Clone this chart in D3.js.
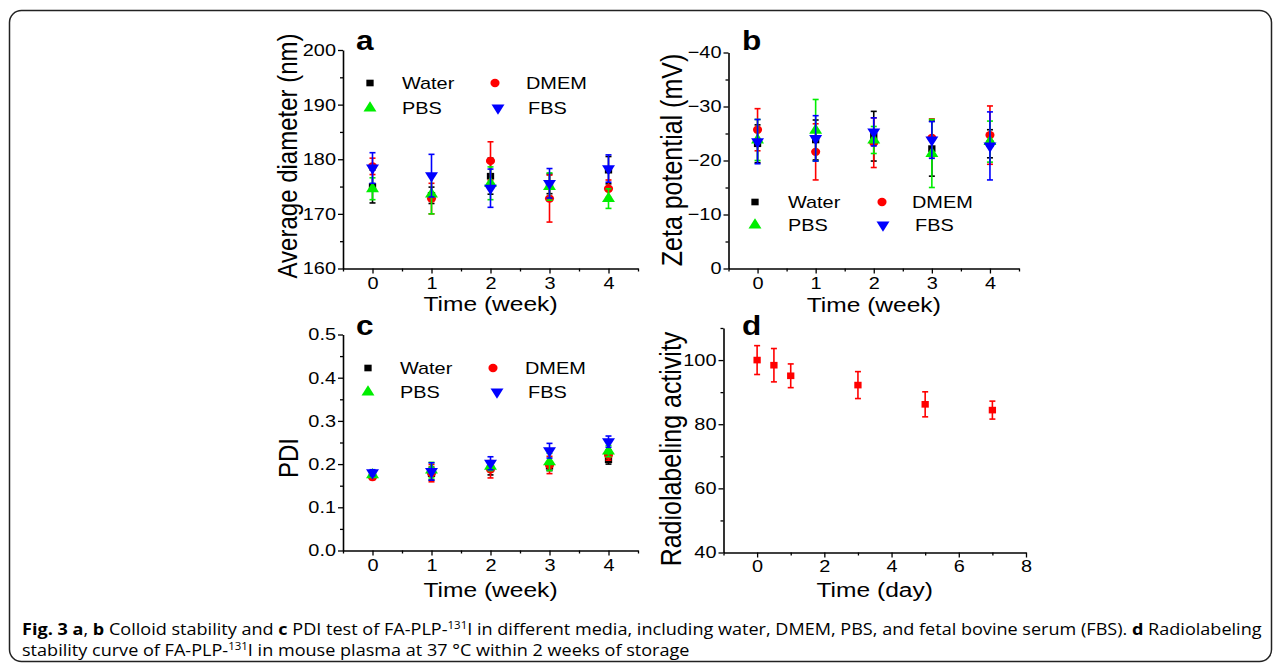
<!DOCTYPE html>
<html lang="en">
<head>
<meta charset="utf-8">
<script src="https://d3js.org/d3.v7.min.js"></script>
<style>
  body { margin: 0; background: #fff; }
  text { font-family: "Liberation Sans", Arial, sans-serif; fill: #000; }
  .caption text { font-family: "Open Sans", "Noto Sans", sans-serif; }
</style>
</head>
<body>
<div class="display1"></div>
<script>
// ---- data ----
var weeks = [0, 1, 2, 3, 4];

// a: average diameter (nm)
var diaWater = [175.0, 173.4, 176.9, 175.5, 178.0];
var diaWaterErr = [3.0, 1.5, 3.3, 1.8, 2.5];
var diaDMEM = [178.7, 172.8, 179.7, 172.8, 174.6];
var diaDMEMErr = [1.5, 2.8, 3.5, 4.3, 1.6];
var diaPBS = [174.6, 173.6, 175.6, 175.0, 172.8];
var diaPBSErr = [2.0, 3.6, 3.0, 2.5, 1.8];
var diaFBS = [178.4, 177.0, 174.7, 175.6, 178.3];
var diaFBSErr = [2.8, 3.9, 3.5, 2.7, 2.5];

// b: zeta potential (mV)
var zetaWater = [-23.1, -23.8, -24.5, -22.2, -23.1];
var zetaWaterErr = [3.5, 3.7, 4.6, 5.1, 2.6];
var zetaDMEM = [-25.7, -21.6, -23.3, -24.2, -24.7];
var zetaDMEMErr = [3.9, 5.2, 4.6, 3.5, 5.4];
var zetaPBS = [-23.8, -25.6, -23.8, -21.3, -23.5];
var zetaPBSErr = [3.8, 5.7, 2.5, 6.3, 3.8];
var zetaFBS = [-23.5, -24.1, -25.3, -23.8, -22.7];
var zetaFBSErr = [4.1, 4.2, 2.6, 3.4, 6.3];

// c: PDI
var pdiWater = [0.172, 0.178, 0.190, 0.195, 0.210];
var pdiWaterErr = [0.006, 0.015, 0.015, 0.010, 0.010];
var pdiDMEM = [0.170, 0.179, 0.188, 0.198, 0.221];
var pdiDMEMErr = [0.006, 0.020, 0.020, 0.020, 0.012];
var pdiPBS = [0.175, 0.186, 0.195, 0.205, 0.230];
var pdiPBSErr = [0.005, 0.018, 0.010, 0.020, 0.013];
var pdiFBS = [0.180, 0.183, 0.202, 0.231, 0.252];
var pdiFBSErr = [0.007, 0.020, 0.015, 0.017, 0.013];

// d: radiolabeling activity
var days = [0, 0.5, 1, 3, 5, 7];
var activity = [100, 98.4, 95.1, 92.2, 86.2, 84.4];
var activityErr = [4.5, 5.2, 3.7, 4.2, 3.9, 2.8];

// tick values
var weekTicks = [0, 1, 2, 3, 4];
var weekMinor = [-0.5, 0.5, 1.5, 2.5, 3.5, 4.5];
var dayTicks = [0, 2, 4, 6, 8];
var dayMinor = [-1, 1, 3, 5, 7];

var colors = {Water: '#000000', DMEM: '#ff0000', PBS: '#00ee00', FBS: '#0000ff', Radiolabeling: '#ff0000'};
var S = 1.17; // the figure text is a bit wider than plain Arial

var width = 1281, height = 672;
var svg = d3.select('.display1').append('svg').attr('width', width).attr('height', height);

// frame round the figure
svg.append('rect').attr('x', 9.5).attr('y', 10.5).attr('width', 1262).attr('height', 651)
  .attr('rx', 12).attr('fill', 'none').attr('stroke', '#222').attr('stroke-width', 1.5);

function marker(name) {
  if (name == 'Water' || name == 'Radiolabeling') return d3.symbol().type(d3.symbolSquare).size(44)();
  if (name == 'DMEM') return d3.symbol().type(d3.symbolCircle).size(54)();
  return d3.symbol().type(d3.symbolTriangle).size(60)();
}
function markerTransform(name, px, py) {
  var t = 'translate(' + px + ',' + py + ')';
  if (name == 'FBS') t += ' rotate(180)';
  return t + ' scale(1.1,1)';
}

function stretchedText(g, x, y, txt, size, anchor, bold) {
  g.append('text')
    .attr('transform', 'translate(' + x + ',' + y + ') scale(' + S + ',1)')
    .attr('text-anchor', anchor || 'start')
    .style('font-size', size + 'px')
    .style('font-weight', bold ? 'bold' : 'normal')
    .text(txt);
}

function drawPanel(p) {
  var g = svg.append('g');
  var x = d3.scaleLinear().domain(p.xDomain).range(p.xRange);
  var y = d3.scaleLinear().domain(p.yDomain).range(p.yRange);
  var x0 = p.xRange[0], y0 = p.yRange[0];

  // minor ticks
  g.append('g').attr('transform', 'translate(0,' + y0 + ')')
    .call(d3.axisBottom(x).tickValues(p.xMinor).tickSize(3).tickFormat(''))
    .call(function(a) { a.select('.domain').remove(); });
  g.append('g').attr('transform', 'translate(' + x0 + ',0)')
    .call(d3.axisLeft(y).tickValues(p.yMinor).tickSize(3).tickFormat(''))
    .call(function(a) { a.select('.domain').remove(); });

  var xa = g.append('g').attr('transform', 'translate(0,' + y0 + ')')
    .call(d3.axisBottom(x).tickValues(p.xTicks).tickSize(5).tickSizeOuter(0).tickPadding(p.xPad)
      .tickFormat(d3.format('d')));
  var ya = g.append('g').attr('transform', 'translate(' + x0 + ',0)')
    .call(d3.axisLeft(y).tickValues(p.yTicks).tickSize(5).tickSizeOuter(0).tickPadding(1)
      .tickFormat(p.yFormat));
  [xa, ya].forEach(function(a) {
    a.select('.domain').attr('stroke', '#000').attr('stroke-width', 1.6);
    a.selectAll('text').style('font-size', '17px').attr('fill', '#000')
      .style('font-family', '"Liberation Sans", Arial, sans-serif')
      .attr('transform', 'scale(' + S + ',1)');
  });
  g.selectAll('.tick line').attr('stroke', '#000').attr('stroke-width', 1.3);

  // axis titles
  stretchedText(g, (p.xRange[0] + p.xRange[1]) / 2, p.xTitleY, p.xTitle, 21, 'middle');
  g.append('text')
    .attr('transform', 'translate(' + p.yTitleX + ',' + p.yTitleY + ') rotate(-90) scale(1,' + S + ')')
    .attr('text-anchor', 'middle').style('font-size', p.yTitleSize + 'px')
    .text(p.yTitle);

  // panel letter
  stretchedText(g, p.label[1], p.label[2], p.label[0], 27, 'start', true);

  // series: error bars then markers
  p.series.forEach(function(s) {
    var col = colors[s.name];
    var sg = g.append('g');
    s.values.forEach(function(v, i) {
      var px = x(p.xs[i]);
      var yt = y(v + s.err[i]), yb = y(v - s.err[i]);
      sg.append('line').attr('x1', px).attr('x2', px).attr('y1', yt).attr('y2', yb)
        .attr('stroke', col).attr('stroke-width', 1.6);
      [yt, yb].forEach(function(yy) {
        sg.append('line').attr('x1', px - 3).attr('x2', px + 3).attr('y1', yy).attr('y2', yy)
          .attr('stroke', col).attr('stroke-width', 1.6);
      });
      sg.append('path').attr('d', marker(s.name))
        .attr('transform', markerTransform(s.name, px, y(v)))
        .attr('fill', col);
    });
  });

  // legend
  if (p.legend) {
    p.legend.forEach(function(l) {
      g.append('path').attr('d', marker(l[0]))
        .attr('transform', markerTransform(l[0], l[1], l[2]))
        .attr('fill', colors[l[0]]);
      stretchedText(g, l[3], l[2] + 6, l[0], 17, 'start');
    });
  }
}

function fourSeries(w, we, dm, dme, pb, pbe, fb, fbe) {
  return [
    {name: 'Water', values: w, err: we},
    {name: 'DMEM', values: dm, err: dme},
    {name: 'PBS', values: pb, err: pbe},
    {name: 'FBS', values: fb, err: fbe}
  ];
}

drawPanel({
  xDomain: [-0.5, 4.5], xRange: [343, 638], yDomain: [160, 200], yRange: [268.5, 50],
  xTicks: weekTicks, xMinor: weekMinor, yTicks: [160, 170, 180, 190, 200], yMinor: [165, 175, 185, 195],
  yFormat: d3.format('d'), xPad: 3,
  xTitle: 'Time (week)', xTitleY: 311, yTitle: 'Average diameter (nm)', yTitleX: 297, yTitleY: 156, yTitleSize: 24,
  label: ['a', 356, 50], xs: weeks,
  series: fourSeries(diaWater, diaWaterErr, diaDMEM, diaDMEMErr, diaPBS, diaPBSErr, diaFBS, diaFBSErr),
  legend: [['Water', 370, 83, 402], ['DMEM', 495, 83, 526], ['PBS', 370, 108, 402], ['FBS', 498, 108, 528]]
});

drawPanel({
  xDomain: [-0.5, 4.5], xRange: [728.5, 1019], yDomain: [0, -40], yRange: [268.5, 52.5],
  xTicks: weekTicks, xMinor: weekMinor, yTicks: [0, -10, -20, -30, -40], yMinor: [-5, -15, -25, -35],
  yFormat: d3.format('d'), xPad: 3,
  xTitle: 'Time (week)', xTitleY: 312, yTitle: 'Zeta potential (mV)', yTitleX: 682, yTitleY: 160, yTitleSize: 25,
  label: ['b', 742, 50], xs: weeks,
  series: fourSeries(zetaWater, zetaWaterErr, zetaDMEM, zetaDMEMErr, zetaPBS, zetaPBSErr, zetaFBS, zetaFBSErr),
  legend: [['Water', 755, 202, 788], ['DMEM', 882, 202, 912], ['PBS', 755, 225, 788], ['FBS', 883, 225, 915]]
});

drawPanel({
  xDomain: [-0.5, 4.5], xRange: [343, 638], yDomain: [0, 0.5], yRange: [550.5, 334.5],
  xTicks: weekTicks, xMinor: weekMinor, yTicks: [0, 0.1, 0.2, 0.3, 0.4, 0.5], yMinor: [0.05, 0.15, 0.25, 0.35, 0.45],
  yFormat: d3.format('.1f'), xPad: 3,
  xTitle: 'Time (week)', xTitleY: 597, yTitle: 'PDI', yTitleX: 298, yTitleY: 458, yTitleSize: 24,
  label: ['c', 356, 335], xs: weeks,
  series: fourSeries(pdiWater, pdiWaterErr, pdiDMEM, pdiDMEMErr, pdiPBS, pdiPBSErr, pdiFBS, pdiFBSErr),
  legend: [['Water', 368, 368, 400], ['DMEM', 493, 368, 525], ['PBS', 368, 392, 400], ['FBS', 497, 392, 528]]
});

drawPanel({
  xDomain: [-1, 8], xRange: [723.5, 1026], yDomain: [40, 110], yRange: [552.5, 328],
  xTicks: dayTicks, xMinor: dayMinor, yTicks: [40, 60, 80, 100], yMinor: [50, 70, 90, 110],
  yFormat: d3.format('d'), xPad: 2,
  xTitle: 'Time (day)', xTitleY: 597, yTitle: 'Radiolabeling activity', yTitleX: 681, yTitleY: 449, yTitleSize: 25,
  label: ['d', 742, 335], xs: days,
  series: [{name: 'Radiolabeling', values: activity, err: activityErr}],
  legend: null
});

// caption
var cap = svg.append('g').attr('class', 'caption');
var line1 = cap.append('text').style('font-size', '16.5px');
function add(t, txt, opts) {
  var s = t.append('tspan').text(txt);
  if (opts == 'b') s.style('font-weight', 'bold');
  if (opts == 'sup') s.attr('dy', -6).style('font-size', '10.5px');
  if (opts == 'down') s.attr('dy', 6);
  return s;
}
add(line1, 'Fig. 3 a', 'b'); add(line1, ', '); add(line1, 'b', 'b');
add(line1, ' Colloid stability and '); add(line1, 'c', 'b');
add(line1, ' PDI test of FA-PLP-'); add(line1, '131', 'sup');
add(line1, 'I in different media, including water, DMEM, PBS, and fetal bovine serum (FBS). ', 'down');
add(line1, 'd', 'b'); add(line1, ' Radiolabeling');
var line2 = cap.append('text').style('font-size', '16.5px');
add(line2, 'stability curve of FA-PLP-'); add(line2, '131', 'sup');
add(line2, 'I in mouse plasma at 37 °C within 2 weeks of storage', 'down');

var w1 = line1.node().getComputedTextLength();
var k = 1240 / w1;
line1.attr('transform', 'translate(22,635) scale(' + k + ',1)');
line2.attr('transform', 'translate(22,656) scale(' + k + ',1)');
</script>
</body>
</html>
